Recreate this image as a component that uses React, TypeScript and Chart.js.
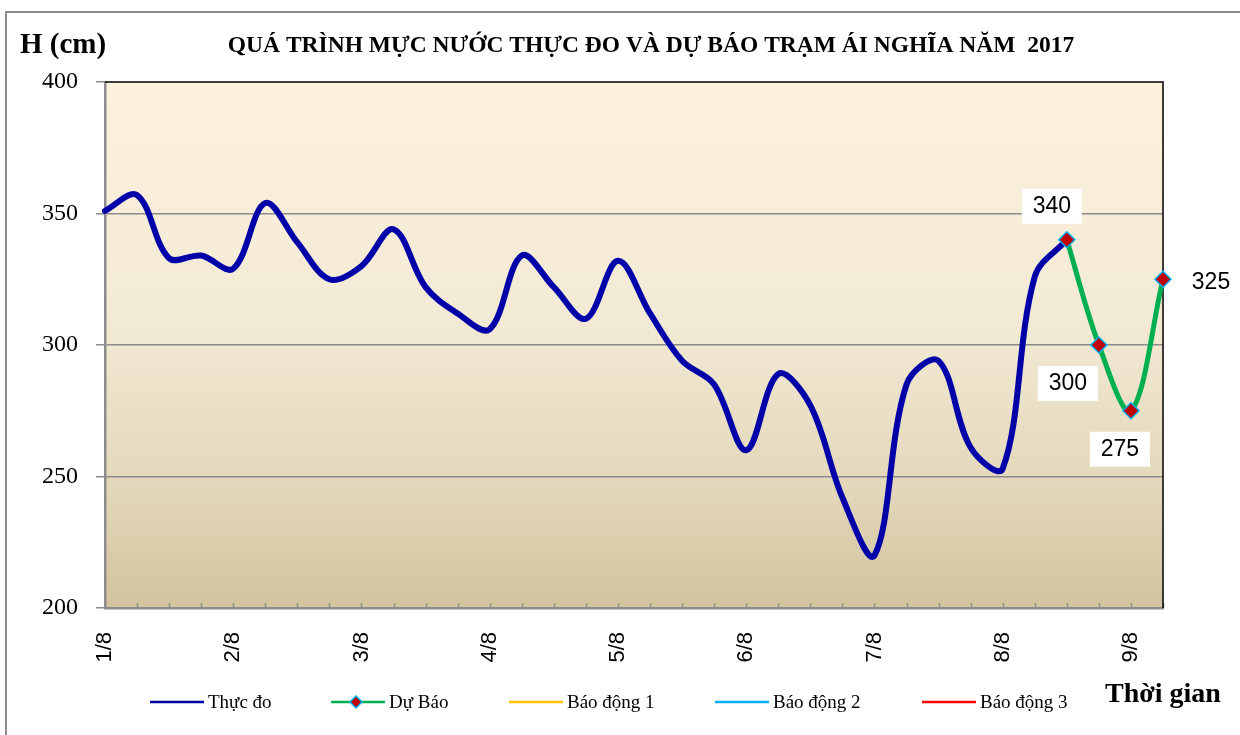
import React, { useEffect, useRef } from "react";
import { Chart, registerables } from "chart.js";

Chart.register(...registerables);

// ---- DATA ----
const timeLabels: string[] = [
  "1/8", "", "", "",
  "2/8", "", "", "",
  "3/8", "", "", "",
  "4/8", "", "", "",
  "5/8", "", "", "",
  "6/8", "", "", "",
  "7/8", "", "", "",
  "8/8", "", "", "",
  "9/8", "",
];

const observed: (number | null)[] = [
  351, 357, 333, 334,
  329, 354, 339, 325,
  330, 344, 322, 312,
  306, 334, 322, 310,
  332, 312, 294, 285,
  260, 289, 277, 242,
  220, 285, 294, 261,
  253, 326, 340, null,
  null, null,
];

const forecast: (number | null)[] = [
  null, null, null, null,
  null, null, null, null,
  null, null, null, null,
  null, null, null, null,
  null, null, null, null,
  null, null, null, null,
  null, null, null, null,
  null, null, 340, 300,
  275, 325,
];

const alarm1: (number | null)[] = [];
const alarm2: (number | null)[] = [];
const alarm3: (number | null)[] = [];

const seriesNames = ["Thực đo", "Dự Báo", "Báo động 1", "Báo động 2", "Báo động 3"];
const yMin = 200;
const yMax = 400;
const yStep = 50;

const chartTitle = "QUÁ TRÌNH MỰC NƯỚC THỰC ĐO VÀ DỰ BÁO TRẠM ÁI NGHĨA NĂM  2017";
const yAxisTitle = "H (cm)";
const xAxisTitle = "Thời gian";

// ---- STYLE ----
const SERIF = "'Liberation Serif', 'Times New Roman', serif";
const SANS = "'Liberation Sans', Arial, sans-serif";
const AXIS_GRAY = "#8C8C8C";

const legendLineX = [150, 331, 509, 715, 922];
const legendY = 703;
const labelOffsets: [number, number][] = [
  [-15, -34],
  [-31, 38],
  [-11, 38],
  [48, 2],
];

const decorPlugin = {
  id: "decor",
  beforeDraw(chart: any) {
    const { ctx, chartArea: a } = chart;
    ctx.save();
    ctx.fillStyle = "#FFFFFF";
    ctx.fillRect(0, 0, chart.width, chart.height);
    const g = ctx.createLinearGradient(0, a.top, 0, a.bottom);
    g.addColorStop(0, "#FCF1DC");
    g.addColorStop(0.45, "#F3EAD5");
    g.addColorStop(0.75, "#E4D9BC");
    g.addColorStop(1, "#D3C39F");
    ctx.fillStyle = g;
    ctx.fillRect(a.left, a.top, a.right - a.left, a.bottom - a.top);
    ctx.strokeStyle = AXIS_GRAY;
    ctx.lineWidth = 2;
    ctx.strokeRect(6, 12, 1400, 900);
    ctx.restore();
  },
  beforeDatasetsDraw(chart: any) {
    const { ctx, chartArea: a } = chart;
    const xs = chart.scales.x;
    ctx.save();
    ctx.strokeStyle = AXIS_GRAY;
    ctx.lineWidth = 1.5;
    for (let i = 0; i < timeLabels.length; i++) {
      const px = Math.round(xs.getPixelForValue(i)) + 0.5;
      ctx.beginPath();
      ctx.moveTo(px, a.bottom);
      ctx.lineTo(px, a.bottom - 5);
      ctx.stroke();
    }
    ctx.strokeStyle = "#000000";
    ctx.lineWidth = 1.5;
    ctx.beginPath();
    ctx.moveTo(a.left, a.top);
    ctx.lineTo(a.right, a.top);
    ctx.lineTo(a.right, a.bottom);
    ctx.stroke();
    ctx.restore();
  },
  afterDraw(chart: any) {
    const { ctx } = chart;
    ctx.save();
    ctx.fillStyle = "#000";
    ctx.textBaseline = "middle";
    ctx.font = `bold 29px ${SERIF}`;
    ctx.textAlign = "left";
    ctx.fillText(yAxisTitle, 20, 46);
    ctx.font = `bold 28px ${SERIF}`;
    ctx.fillText(xAxisTitle, 1105, 695);
    ctx.font = `bold 23.5px ${SERIF}`;
    ctx.textAlign = "center";
    ctx.fillText(chartTitle, 651, 46);

    const meta = chart.getDatasetMeta(1);
    let k = 0;
    ctx.font = `23px ${SANS}`;
    meta.data.forEach((pt: any, i: number) => {
      const v = forecast[i];
      if (v === null || v === undefined) return;
      const off = labelOffsets[k++] || [0, -30];
      const cx = pt.x + off[0];
      const cy = pt.y + off[1];
      ctx.fillStyle = "#FFFFFF";
      ctx.fillRect(cx - 30, cy - 17, 60, 35);
      ctx.fillStyle = "#000";
      ctx.textAlign = "center";
      ctx.fillText(String(v), cx, cy + 1);
    });

    ctx.font = `19px ${SERIF}`;
    ctx.textAlign = "left";
    chart.data.datasets.forEach((ds: any, i: number) => {
      const x0 = legendLineX[i];
      ctx.strokeStyle = ds.borderColor;
      ctx.lineWidth = 2.5;
      ctx.beginPath();
      ctx.moveTo(x0, legendY - 1);
      ctx.lineTo(x0 + 54, legendY - 1);
      ctx.stroke();
      if (ds.pointRadius && ds.pointRadius > 0) {
        const mx = x0 + 25;
        const my = legendY - 1;
        const r = 6;
        ctx.beginPath();
        ctx.moveTo(mx, my - r);
        ctx.lineTo(mx + r, my);
        ctx.lineTo(mx, my + r);
        ctx.lineTo(mx - r, my);
        ctx.closePath();
        ctx.fillStyle = ds.pointBackgroundColor;
        ctx.fill();
        ctx.strokeStyle = ds.pointBorderColor;
        ctx.lineWidth = 1.5;
        ctx.stroke();
      }
      ctx.fillStyle = "#000";
      ctx.fillText(ds.label, x0 + 58, legendY);
    });
    ctx.restore();
  },
};

export default function App() {
  const canvasRef = useRef<HTMLCanvasElement | null>(null);

  useEffect(() => {
    if (!canvasRef.current) return;
    const chart = new Chart(canvasRef.current, {
      type: "line",
      data: {
        labels: timeLabels,
        datasets: [
          {
            label: seriesNames[0],
            data: observed,
            borderColor: "#0000A8",
            backgroundColor: "#0000A8",
            borderWidth: 6,
            pointRadius: 0,
            tension: 0.35,
            order: 1,
            borderCapStyle: "round",
            borderJoinStyle: "round",
          },
          {
            label: seriesNames[1],
            data: forecast,
            borderColor: "#00B050",
            backgroundColor: "#00B050",
            borderWidth: 5,
            pointStyle: "rectRot",
            pointRadius: 8,
            pointBackgroundColor: "#C00000",
            pointBorderColor: "#00B0F0",
            pointBorderWidth: 1.5,
            tension: 0.35,
            order: 0,
            clip: false,
          },
          {
            label: seriesNames[2],
            data: alarm1,
            borderColor: "#FFC000",
            borderWidth: 3,
            pointRadius: 0,
            order: 2,
          },
          {
            label: seriesNames[3],
            data: alarm2,
            borderColor: "#00B0F0",
            borderWidth: 3,
            pointRadius: 0,
            order: 2,
          },
          {
            label: seriesNames[4],
            data: alarm3,
            borderColor: "#FF0000",
            borderWidth: 3,
            pointRadius: 0,
            order: 2,
          },
        ],
      } as any,
      options: {
        responsive: false,
        animation: false,
        devicePixelRatio: 1,
        layout: { padding: { top: 82, right: 77, left: 0, bottom: 0 } },
        plugins: {
          legend: { display: false },
          title: { display: false },
          tooltip: { enabled: false },
        },
        scales: {
          x: {
            type: "category",
            offset: false,
            grid: { display: false, drawTicks: false },
            border: { display: true, color: AXIS_GRAY, width: 2.5 },
            ticks: {
              autoSkip: false,
              maxRotation: 90,
              minRotation: 90,
              padding: 24,
              color: "#000",
              font: { family: SANS, size: 22 },
            },
            afterFit: (s: any) => {
              s.height = 127;
            },
          },
          y: {
            min: yMin,
            max: yMax,
            grid: {
              color: (c: any) =>
                c.tick && c.tick.value === yMax ? "rgba(0,0,0,0)" : AXIS_GRAY,
              lineWidth: 1.5,
              tickLength: 9,
              tickColor: AXIS_GRAY,
            },
            border: { display: true, color: AXIS_GRAY, width: 2.5 },
            ticks: {
              stepSize: yStep,
              padding: 18,
              color: "#000",
              font: { family: SERIF, size: 24 },
            },
            afterFit: (s: any) => {
              s.width = 105;
            },
          },
        },
      } as any,
      plugins: [decorPlugin],
    });
    return () => chart.destroy();
  }, []);

  return (
    <div style={{ position: "absolute", left: 0, top: 0, width: 1240, height: 735 }}>
      <canvas ref={canvasRef} width={1240} height={735} />
    </div>
  );
}
